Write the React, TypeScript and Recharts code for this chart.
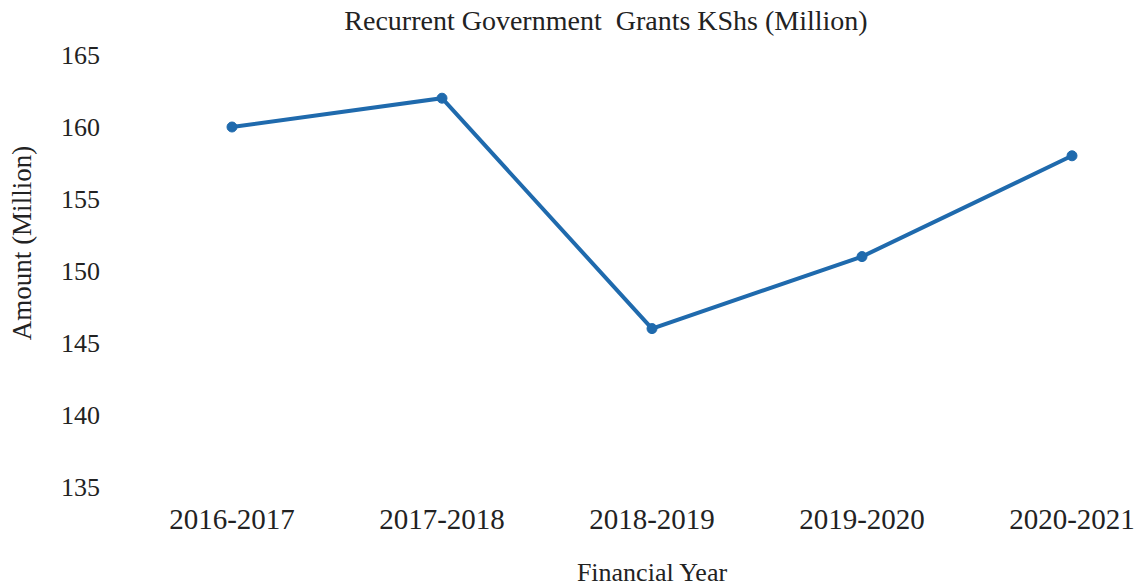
import React from 'react';
import { LineChart, Line, XAxis, YAxis, Label } from 'recharts';

const years = ['2016-2017', '2017-2018', '2018-2019', '2019-2020', '2020-2021'];
const grants = [160, 162, 146, 151, 158];
const yTicks = [135, 140, 145, 150, 155, 160, 165];

const data = years.map((year, i) => ({ year, amount: grants[i] }));

const FONT = '"Liberation Serif", "Times New Roman", serif';
const LINE_COLOR = '#1f6aad';

const YLabel = () => (
  <text
    x={22}
    y={243}
    transform="rotate(-90 22 243)"
    textAnchor="middle"
    dominantBaseline="central"
    fontFamily={FONT}
    fontSize={27}
    fill="#222"
  >
    Amount (Million)
  </text>
);

const XLabel = () => (
  <text
    x={652}
    y={572}
    textAnchor="middle"
    dominantBaseline="central"
    fontFamily={FONT}
    fontSize={26}
    fill="#222"
  >
    Financial Year
  </text>
);

export default function App() {
  return (
    <div style={{ position: 'absolute', left: 0, top: 0, width: 1141, height: 586, background: '#fff' }}>
      <div
        style={{
          position: 'absolute',
          left: 0,
          width: 1212,
          top: 5,
          textAlign: 'center',
          fontFamily: FONT,
          fontSize: 28,
          color: '#222',
          whiteSpace: 'pre',
        }}
      >
        {'Recurrent Government  Grants KShs (Million)'}
      </div>
      <LineChart width={1141} height={586} data={data} margin={{ top: 55, right: 10, bottom: 0, left: 0 }}>
        <XAxis
          dataKey="year"
          axisLine={false}
          tickLine={false}
          padding={{ left: 124, right: 59 }}
          height={99}
          tickMargin={15}
          tick={{ fontFamily: FONT, fontSize: 29, fill: '#222' }}
        >
          <Label content={XLabel} />
        </XAxis>
        <YAxis
          domain={[135, 165]}
          ticks={yTicks}
          width={108}
          axisLine={false}
          tickLine={false}
          interval={0}
          tick={{ fontFamily: FONT, fontSize: 26, fill: '#222' }}
        >
          <Label content={YLabel} />
        </YAxis>
        <Line
          type="linear"
          dataKey="amount"
          stroke={LINE_COLOR}
          strokeWidth={4}
          dot={{ r: 5, fill: LINE_COLOR, stroke: LINE_COLOR, strokeWidth: 1 }}
          isAnimationActive={false}
        />
      </LineChart>
    </div>
  );
}
